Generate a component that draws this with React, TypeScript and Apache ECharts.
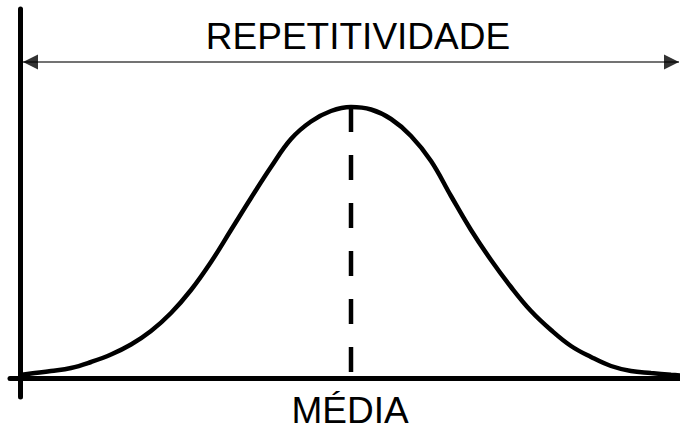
import React, { useEffect, useRef } from "react";
import * as echarts from "echarts";

// Bell curve readings: x along the horizontal axis, y height above it
const curveX = [0, 11, 31, 51, 71, 91, 111, 131, 151, 171, 191, 211, 231, 251, 271, 291, 311, 331,
  351, 371, 391, 411, 431, 451, 471, 491, 511, 531, 551, 571, 591, 611, 631, 651, 660];
const curveY = [3, 4.5, 7, 10, 16, 23.5, 33.5, 47, 65, 88, 116, 148, 180, 211, 239, 256.5, 267, 271,
  268.5, 259, 242, 217, 182, 148, 118, 91, 67, 48, 32, 21, 12, 7, 5, 3.2, 2.5];

// Mean position and peak height of the distribution
const meanX = 331;
const peakY = 271;

// Span of the repeatability arrow
const arrowY = 316;
const arrowStart = 3;
const arrowEnd = 659;
const arrowHeadCenters = [10.5, 651.5];

const topLabel = "REPETITIVIDADE";
const bottomLabel = "MÉDIA";

export default function App() {
  const ref = useRef<HTMLDivElement>(null);

  useEffect(() => {
    if (!ref.current) return;
    const chart = echarts.init(ref.current, null, { renderer: "svg" });
    const axisStyle = { show: true, onZero: true, lineStyle: { color: "#000", width: 5 } };
    const fontFamily = "'Liberation Sans', Arial, sans-serif";

    chart.setOption({
      animation: false,
      backgroundColor: "#fff",
      grid: { left: 10, right: 0, top: 9, bottom: 33 },
      xAxis: {
        type: "value",
        min: -10,
        max: 660,
        axisLine: axisStyle,
        axisTick: { show: false },
        axisLabel: { show: false },
        splitLine: { show: false },
      },
      yAxis: {
        type: "value",
        min: -19,
        max: 369,
        axisLine: axisStyle,
        axisTick: { show: false },
        axisLabel: { show: false },
        splitLine: { show: false },
      },
      series: [
        {
          type: "line",
          data: [[arrowStart, arrowY], [arrowEnd, arrowY]],
          symbol: "none",
          lineStyle: { color: "#444", width: 1.5 },
          z: 2,
        },
        {
          type: "scatter",
          data: [
            { value: [arrowHeadCenters[0], arrowY], symbolRotate: 90 },
            { value: [arrowHeadCenters[1], arrowY], symbolRotate: -90 },
          ],
          symbol: "triangle",
          symbolSize: [15, 15],
          itemStyle: { color: "#000" },
          z: 3,
        },
        {
          type: "line",
          data: [[meanX, peakY], [meanX, 0]],
          symbol: "none",
          lineStyle: { color: "#000", width: 4.5, type: [25, 23] },
          z: 2,
        },
        {
          type: "line",
          data: curveX.map((x, i) => [x, curveY[i]]),
          symbol: "none",
          smooth: 0.4,
          lineStyle: { color: "#000", width: 4.5 },
          z: 4,
        },
      ],
      graphic: [
        {
          type: "text",
          x: 358,
          y: 55,
          style: {
            text: topLabel,
            fill: "#000",
            font: `37px ${fontFamily}`,
            textAlign: "center",
            textVerticalAlign: "bottom",
          },
        },
        {
          type: "text",
          x: 350,
          y: 429,
          style: {
            text: bottomLabel,
            fill: "#000",
            font: `37px ${fontFamily}`,
            textAlign: "center",
            textVerticalAlign: "bottom",
          },
        },
      ],
    });

    return () => chart.dispose();
  }, []);

  return (
    <div
      ref={ref}
      style={{ position: "absolute", left: 0, top: 0, width: 680, height: 430 }}
    />
  );
}
